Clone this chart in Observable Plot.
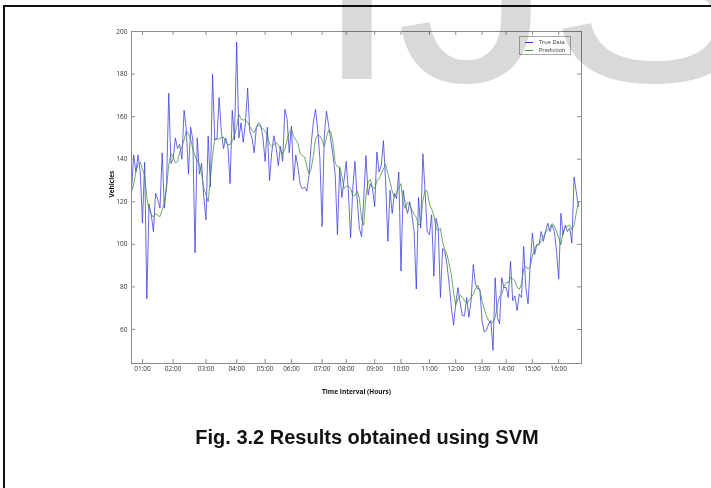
<!DOCTYPE html>
<html><head><meta charset="utf-8">
<script src="https://cdn.jsdelivr.net/npm/d3@7"></script>
<script src="https://cdn.jsdelivr.net/npm/@observablehq/plot@0.6"></script>
<style>
html,body{margin:0;padding:0;background:#fff;width:711px;height:488px;overflow:hidden;position:relative;}
#frame{position:absolute;left:3px;top:5px;width:760px;height:560px;border:2px solid #111;box-sizing:border-box;}
#wm{position:absolute;left:0;top:0;mix-blend-mode:multiply;pointer-events:none;}
#chart{position:absolute;left:0;top:0;}
#legend{position:absolute;left:519px;top:36px;width:52px;height:19px;box-sizing:border-box;border:1px solid #aaa;background:#fff;font-family:"Open Sans",sans-serif;font-size:5.6px;color:#333;padding-top:0.5px;}
#legend .row{height:8.5px;line-height:8.5px;white-space:nowrap;overflow:hidden;}
#legend .sw{display:inline-block;width:8px;height:1px;margin-left:5px;margin-right:6px;vertical-align:middle;}
#caption{position:absolute;left:0;top:426px;width:734px;text-align:center;font-family:"Liberation Sans",Arial,sans-serif;font-weight:bold;font-size:20px;color:#111;}
</style></head>
<body>
<div id="frame"></div>
<div id="chart"></div>
<div id="legend">
  <div class="row"><span class="sw" style="background:#3a3ae0"></span>True Data</div>
  <div class="row"><span class="sw" style="background:#3c8f3c"></span>Prediction</div>
</div>
<svg id="wm" width="711" height="120" font-family="Liberation Sans, Arial, sans-serif" font-size="316" fill="#d9d9d9">
  <text x="313" y="79">I</text>
  <text x="396" y="81">J</text>
  <text x="548" y="81">S</text>
</svg>
<div id="caption">Fig. 3.2 Results obtained using SVM</div>
<script>
// Vehicles per sample (True Data)
const truth = [125,142,134,142,134,110,138.6,74.4,119,114,
106,124,121,117,143,117,128,171,138,140,
150,145,147,140,163,154,133,155,149,96,
150,133,138,122,111.5,151,127,180,149,149.5,
169,153,145,150,146,128.5,163,149,195,150,
157,148,157,173.5,153,150,143,155,157,156,
150,139,155,130,143,151,145.6,137,146,139,
163.4,159,143,155.6,130,142,136,128,126,127,
125,132.4,147,157.2,163.4,154,140,108.4,151,162.6,
155.7,148.8,141.7,132.5,104.5,136,122,130,139,124.7,
103,126.2,139,121.5,107.6,103.7,121.5,141.7,123.1,128.5,
126.2,117.7,143.3,134,137,148.7,129.3,101.4,125.4,114.5,
123.9,121.5,134,87.4,125.4,118.5,114.5,120,113.8,106,
79,122,107.6,142.5,124.7,106,104.5,113.8,85,112.2,
107.6,75,98,96.7,90.5,81.3,70.4,62,72,79.7,
72.7,66.5,66.5,75,65.7,73.5,90.5,81.3,79,79,
64.2,58.8,59.5,62.6,64.2,50.2,84.3,65.7,62.6,84.3,
79.7,79.7,75,92.1,73.5,75.8,68.8,76.6,75,99,
79.7,72,90.5,105.3,95.2,99.8,99.8,106,101.4,106,
109.9,106,109.1,106,96.7,83.6,114.6,104.5,109,106,
107.6,100.6,131.6,124.7,117.7];

// SVM prediction per sample
const prediction = [124.7,128,134,137.5,138.6,135.2,132.4,121.7,116.5,114.2,
112.7,114.4,113.6,113,116.2,119.5,126.6,137.3,142.8,141,
138.2,138.9,143.3,145.6,149.1,153.3,151.9,149.5,144.8,141.6,
139.3,137.5,133,126.5,123.3,120,130.8,141.7,149.5,149.5,
149.5,150.2,150.3,147.9,146.8,146.9,148.6,151.4,155,161.1,
158.8,158.4,158.6,157.4,155.3,153.5,152.6,154.9,156,155.3,
154.1,153.2,151.4,147.1,146,146.8,147.8,146.8,144.3,142.5,
144.7,149,152.6,154.1,150.7,149.1,147.4,142.5,141.7,141,
136.7,133,135.5,141.6,149.5,151.3,150.9,149,146,150.4,
153.6,152.8,147.4,138.1,136.4,136.5,132.4,126.2,127.3,127.3,
126.2,122.7,123,125,121.7,112,109,123,129.3,130.4,
127,126,129.9,130.8,133,135.5,137.6,133.2,129.4,125,
122.1,124.3,126.4,128.5,119,117,119.7,118.6,116.2,114.1,
112.7,109.1,109.6,120.5,125.4,124.9,119,116.5,113.6,107.6,
106.5,107.6,101,97.4,95.2,90.8,85.7,77.3,71.4,74.3,
76,75.2,73.5,72.3,73.4,75,76.6,78.9,80.8,78.2,
73.5,69.6,66.4,64.2,63.1,63.2,65.7,71,75.5,76.6,
80.2,82,82,84.3,84,82.8,80,78.8,81.3,88.4,
89.7,88.4,89.3,94.5,98,99.8,99.8,101.7,103.6,105.7,
106.8,108,109.7,108.7,106.2,102.9,99.8,105.6,108,108.5,
109,107,109,114.5,120];

// sample index at which each hour label sits
const hourIndex = [5,19,34,48,61,73,87,98,111,123,136,148,160,171,183,195];
const hourLabels = ["01:00","02:00","03:00","04:00","05:00","06:00","07:00","08:00",
  "09:00","10:00","11:00","12:00","13:00","14:00","15:00","16:00"];
const yTicks = [60,80,100,120,140,160,180,200];

const labelByIndex = new Map(hourIndex.map((d,i)=>[d, hourLabels[i]]));
const rows = truth.map((v,i)=>({i, truth:v, prediction:prediction[i]}));

const W = 711, H = 410, mL = 131, mR = 130, mT = 31, mB = 47;
const innerW = W - mL - mR, innerH = H - mT - mB, tick = 4;

const chart = Plot.plot({
  width: W, height: H,
  marginLeft: mL, marginRight: mR, marginTop: mT, marginBottom: mB,
  style: {background: "transparent", fontFamily: "Open Sans, sans-serif", fontSize: "6.5px", color: "#333"},
  x: {domain: [0, 205.4]},
  y: {domain: [44, 200]},
  marks: [
    Plot.lineY(rows, {x: "i", y: "truth", stroke: "#3a3ae0", strokeWidth: 0.9, strokeOpacity: 0.85}),
    Plot.lineY(rows, {x: "i", y: "prediction", stroke: "#3c8f3c", strokeWidth: 0.9, strokeOpacity: 0.85}),
    Plot.frame({stroke: "#8c8c8c"}),
    Plot.tickY(yTicks, {y: d=>d, insetRight: innerW - tick, stroke: "#8c8c8c"}),
    Plot.tickY(yTicks, {y: d=>d, insetLeft: innerW - tick, stroke: "#8c8c8c"}),
    Plot.tickX(hourIndex, {x: d=>d, insetTop: innerH - tick, stroke: "#8c8c8c"}),
    Plot.tickX(hourIndex, {x: d=>d, insetBottom: innerH - tick, stroke: "#8c8c8c"}),
    Plot.axisY(yTicks, {tickSize: 0, tickPadding: 4, label: null}),
    Plot.axisX(hourIndex, {tickSize: 0, tickPadding: 3, label: null, tickFormat: d => labelByIndex.get(d)}),
    Plot.text(["Vehicles"], {frameAnchor: "left", rotate: -90, dx: -20, fontWeight: "bold", fill: "#111"}),
    Plot.text(["Time Interval (Hours)"], {frameAnchor: "bottom", dy: 30, fontWeight: "bold", fill: "#111"})
  ]
});
document.getElementById("chart").appendChild(chart);
</script>
</body></html>
